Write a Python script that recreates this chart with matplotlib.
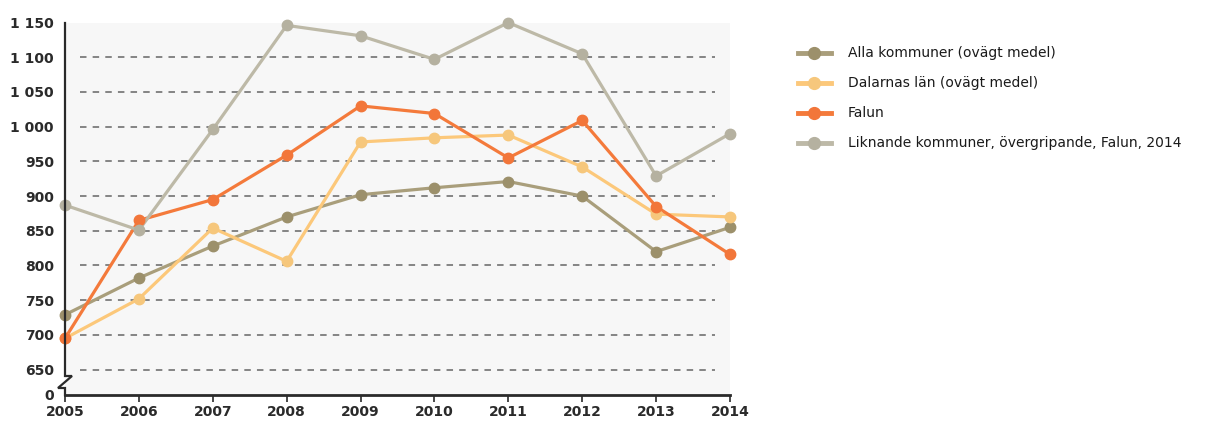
import matplotlib

matplotlib.use("Agg")
import matplotlib.pyplot as plt
from matplotlib.lines import Line2D
from matplotlib.ticker import FuncFormatter

# data
years = [2005, 2006, 2007, 2008, 2009, 2010, 2011, 2012, 2013, 2014]
alla = [729, 782, 828, 870, 902, 912, 921, 900, 820, 855]
dalarna = [695, 752, 854, 806, 978, 984, 988, 942, 874, 870]
falun = [695, 865, 895, 959, 1030, 1019, 955, 1009, 885, 816]
liknande = [887, 851, 996, 1146, 1131, 1097, 1150, 1105, 929, 990]

labels = [
    "Alla kommuner (ovägt medel)",
    "Dalarnas län (ovägt medel)",
    "Falun",
    "Liknande kommuner, övergripande, Falun, 2014",
]
y_ticks = [650, 700, 750, 800, 850, 900, 950, 1000, 1050, 1100, 1150]

# broken axis: bottom of the plot shows as "0"
y_bottom = 613.4
y_top = 1150

line_colors = ["#a99e7b", "#fcc87a", "#f47a3b", "#bdb9a7"]
marker_colors = ["#9c906b", "#f6c77c", "#f2763a", "#b5b1a0"]
text_color = "#2a2a2a"

fig = plt.figure(figsize=(12.3, 4.21), dpi=100)
ax = fig.add_axes([65 / 1230, 1 - 395 / 421, 665 / 1230, 372.4 / 421])
ax.set_facecolor("#f7f7f7")

# dashed grid lines (not the top one)
for v in y_ticks[:-1]:
    ax.axhline(v, xmin=15 / 665, xmax=650 / 665, color="#7c7c7c",
               linewidth=1.3, linestyle=(0, (3.6, 3.4)), zorder=1)

series = [alla, dalarna, falun, liknande]
handles = []
for vals, lc, mc, lab in zip(series, line_colors, marker_colors, labels):
    ax.plot(years, vals, color=lc, linewidth=2.3, zorder=3, clip_on=False)
    ax.plot(years, vals, linestyle="none", marker="o", markersize=7.5,
            markerfacecolor=mc, markeredgecolor=mc, zorder=4, clip_on=False)
    handles.append(Line2D([0], [0], color=lc, linewidth=3.5, marker="o",
                          markersize=8.5, markerfacecolor=mc,
                          markeredgecolor=mc))

ax.set_xlim(years[0], years[-1])
ax.set_ylim(y_bottom, y_top)

ax.set_xticks(years)
ax.set_yticks([y_bottom] + y_ticks)


def fmt(v, pos):
    if v < 640:
        return "0"
    return f"{int(round(v)):,}".replace(",", " ")


ax.yaxis.set_major_formatter(FuncFormatter(fmt))
ax.tick_params(axis="y", length=0, pad=8, labelsize=10, labelcolor=text_color)
ax.tick_params(axis="x", length=5, width=1.2, color=text_color, pad=2,
               labelsize=10, labelcolor=text_color)
for t in ax.get_xticklabels() + ax.get_yticklabels():
    t.set_fontweight("bold")

for s in ["top", "right", "left"]:
    ax.spines[s].set_visible(False)
ax.spines["bottom"].set_color(text_color)
ax.spines["bottom"].set_linewidth(2)

# left axis line with the break zigzag
w, h = 665.0, 372.4
pts = [(65, 23), (65, 376), (72, 376), (58, 388), (65, 388), (65, 395)]
bx = [(px - 65) / w for px, py in pts]
by = [(395 - py) / h for px, py in pts]
ax.plot(bx, by, color=text_color, linewidth=1.6, transform=ax.transAxes,
        clip_on=False, zorder=5, solid_joinstyle="miter")

fig.legend(handles, labels, loc="upper left",
           bbox_to_anchor=(785 / 1230, 1 - 34 / 421), frameon=False,
           fontsize=10, handlelength=2.4, handletextpad=1.2,
           labelspacing=1.15, labelcolor="#1a1a1a")

fig.savefig("out.png", dpi=100)
